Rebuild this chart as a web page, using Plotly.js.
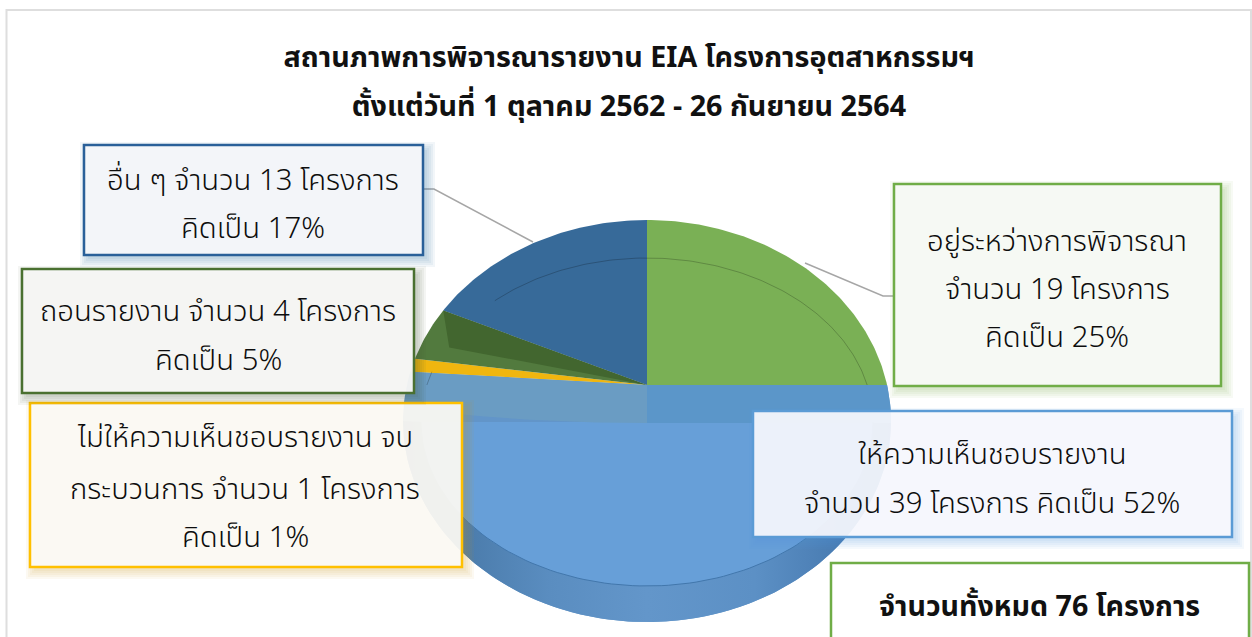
<!DOCTYPE html>
<html><head><meta charset="utf-8">
<script src="https://cdn.plot.ly/plotly-3.0.1.min.js"></script>
<style>html,body{margin:0;padding:0;background:#fff;overflow:hidden}#chart{width:1252px;height:637px}</style>
</head><body><div id="chart"></div>
<script>
const categories = ["อยู่ระหว่างการพิจารณา","ให้ความเห็นชอบรายงาน","ไม่ให้ความเห็นชอบรายงาน จบกระบวนการ","ถอนรายงาน","อื่น ๆ"];
const projects = [19,39,1,4,13];
const sliceColors = ["#7AB055","#6295C9","#F0B60F","#527A3E","#376A99"];
const titleLines = ["สถานภาพการพิจารณารายงาน EIA โครงการอุตสาหกรรมฯ","ตั้งแต่วันที่ 1 ตุลาคม 2562 - 26 กันยายน 2564"];
const labelLines = [
  ["อยู่ระหว่างการพิจารณา","จำนวน 19 โครงการ","คิดเป็น 25%"],
  ["ให้ความเห็นชอบรายงาน","จำนวน 39 โครงการ คิดเป็น 52%"],
  ["ไม่ให้ความเห็นชอบรายงาน จบ","กระบวนการ จำนวน 1 โครงการ","คิดเป็น 1%"],
  ["ถอนรายงาน จำนวน 4 โครงการ","คิดเป็น 5%"],
  ["อื่น ๆ จำนวน 13 โครงการ","คิดเป็น 17%"]
];
const totalLabel = "จำนวนทั้งหมด 76 โครงการ";

// geometry of the tilted pie, in page pixels (axes are mapped 1:1)
const FONT = '"Noto Sans Thai","Noto Sans","DejaVu Sans",sans-serif';
const ax=647, ay=385, cx=647, cy=421, rx=244, ry=201;
const irx=226, iry=164, icy=422;
function rim(th){
  const c=Math.cos(th), s=Math.sin(th);
  const dx=s*rx, dy=-c*(c>0?165:237), py=ay-cy;
  const A=dx*dx/(rx*rx)+dy*dy/(ry*ry), B=2*py*dy/(ry*ry), C=py*py/(ry*ry)-1;
  const t=(-B+Math.sqrt(B*B-4*A*C))/(2*A);
  return [ax+dx*t, ay+dy*t];
}
const total=projects.reduce((a,b)=>a+b,0);
let acc=0; const edges=[0];
projects.forEach(v=>{acc+=v;edges.push(acc/total*2*Math.PI);});
function wedge(a,b){
  const xs=[ax],ys=[ay],n=Math.max(2,Math.ceil((b-a)*60));
  for(let i=0;i<=n;i++){const p=rim(a+(b-a)*i/n);xs.push(p[0]);ys.push(p[1]);}
  xs.push(ax);ys.push(ay);return [xs,ys];
}
function fillTrace(xs,ys,color,name,extra){
  return Object.assign({type:'scatter',mode:'lines',x:xs,y:ys,fill:'toself',fillcolor:color,
    line:{width:0,color:color},name:name||'',hoverinfo:name?'name':'skip',showlegend:false},extra||{});
}
const traces=[];
categories.forEach((c,i)=>{
  const w=wedge(edges[i],edges[i+1]);
  traces.push(fillTrace(w[0],w[1],sliceColors[i],c+': '+projects[i]));
});
// side rim of the pie
(function(){
  const xs=[],ys=[];
  for(let i=0;i<=80;i++){const t=Math.PI*i/80;xs.push(cx+rx*Math.cos(t));ys.push(cy+ry*Math.sin(t));}
  for(let i=80;i>=0;i--){const t=Math.PI*i/80;xs.push(cx+irx*Math.cos(t));ys.push(icy+iry*Math.sin(t));}
  traces.push({type:'scatter',mode:'lines',x:xs,y:ys,fill:'toself',line:{width:0},hoverinfo:'skip',showlegend:false,
    fillgradient:{type:'horizontal',colorscale:[[0,'#3E6E9E'],[0.14,'#4C7DAD'],[0.3,'#5A8DC0'],[0.5,'#6396CA'],[0.72,'#5C90C5'],[0.88,'#4A7DB3'],[1,'#3E70A6']]}});
})();
// upper surface of the blue slice
(function(){
  const xs=[],ys=[];
  for(let i=0;i<=80;i++){const t=Math.PI*i/80;xs.push(cx+irx*Math.cos(t));ys.push(icy+iry*Math.sin(t));}
  traces.push(fillTrace(xs,ys,'#679FD8'));
})();
// light band below the centre
(function(){
  const curve=x=>ay+38*Math.sqrt(1-Math.pow((x-ax)/290,2));
  const end=rim(edges[2]);
  const xs=[ax,end[0]],ys=[ay,end[1]];
  for(let x=404;x<=ax;x+=6){xs.push(x);ys.push(curve(x));}
  xs.push(ax,ax);ys.push(ay+38,ay);
  traces.push(fillTrace(xs,ys,'#6A9CC3'));
  const xr=[ax],yr=[ay];
  for(let i=0;i<=12;i++){const p=ay+38*i/12;xr.push(cx+rx*Math.sqrt(1-Math.pow((p-cy)/ry,2)));yr.push(p);}
  xr.push(ax);yr.push(ay+38);
  traces.push(fillTrace(xr,yr,'#5B96C9'));
})();
// darker facet of the withdrawn slice
const facet=(function(){
  const p=rim(edges[4]);
  traces.push(fillTrace([ax,p[0],p[0]+6,ax],[ay,p[1],p[1]+37,ay],'#42662F'));
  return [p[0],p[1]];
})();
// inner bevel lines
(function(){
  const xu=[],yu=[],xl=[],yl=[];
  const yEdge=Math.asin((icy-ay)/iry);
  const ang=(x,y)=>{const t=Math.atan2(x-ax,-(y-ay));return (t+2*Math.PI)%(2*Math.PI);};
  const fa=ang(facet[0]+6,facet[1]+37);
  for(let i=0;i<=160;i++){const t=yEdge+(Math.PI-2*yEdge)*i/160;
    const x=cx+irx*Math.cos(t),y=icy-iry*Math.sin(t);
    const a=ang(x,y);
    if((a>fa && a<edges[4]) || (a>edges[2]-0.01 && a<edges[3]+0.01)){xu.push(null);yu.push(null);} else {xu.push(x);yu.push(y);}
  }
  for(let i=0;i<=100;i++){const t=Math.PI*i/100;xl.push(cx+irx*Math.cos(t));yl.push(icy+iry*Math.sin(t));}
  traces.push({type:'scatter',mode:'lines',x:xu,y:yu,line:{width:1,color:'rgba(0,0,0,0.22)'},hoverinfo:'skip',showlegend:false});
  traces.push({type:'scatter',mode:'lines',x:xl,y:yl,line:{width:1,color:'#4277AC'},hoverinfo:'skip',showlegend:false});
})();

const boxes=[
 {x0:894,y0:184,x1:1221,y1:386,b:'#70AD47',f:'rgba(248,250,246,0.93)',s:'112,173,71'},
 {x0:753,y0:411,x1:1232,y1:537,b:'#5B9BD5',f:'rgba(248,249,253,0.92)',s:'91,155,213'},
 {x0:30,y0:403,x1:462,y1:567,b:'#FFC000',f:'rgba(252,251,247,0.92)',s:'200,160,40'},
 {x0:22,y0:269,x1:414,y1:393,b:'#4A7030',f:'rgba(247,247,245,0.95)',s:'70,90,50'},
 {x0:84,y0:145,x1:423,y1:255,b:'#2A6099',f:'rgba(245,247,250,0.95)',s:'42,96,153'}
];
const shapes=[
 {type:'rect',xref:'x',yref:'y',x0:6.5,y0:10,x1:1251,y1:640,line:{color:'#DEDEDE',width:2},fillcolor:'rgba(0,0,0,0)',layer:'below'},
 {type:'path',xref:'x',yref:'y',path:'M423,189 L434,189 L533,242',line:{color:'#A6A6A6',width:1.5},layer:'below'},
 {type:'path',xref:'x',yref:'y',path:'M894,296 L883,296 L805,263',line:{color:'#A6A6A6',width:1.5},layer:'below'}
];
boxes.forEach(b=>{
  [9,7,5,3,1].forEach(g=>{
    shapes.push({type:'rect',xref:'x',yref:'y',x0:b.x0-g+5,y0:b.y0-g+6,x1:b.x1+g+3,y1:b.y1+g+3,
      line:{width:0},fillcolor:'rgba('+b.s+',0.06)',layer:'above'});
  });
  shapes.push({type:'rect',xref:'x',yref:'y',x0:b.x0,y0:b.y0,x1:b.x1,y1:b.y1,line:{color:b.b,width:2.5},fillcolor:b.f,layer:'above'});
});
shapes.push({type:'rect',xref:'x',yref:'y',x0:831,y0:563,x1:1249,y1:645,line:{color:'#70AD47',width:2.5},fillcolor:'#FFFFFF',layer:'above'});

const labelPos=[
 {x:1057,y:[242,290,338]},
 {x:992,y:[455,504]},
 {x:245,y:[438,490,538]},
 {x:218,y:[312,361]},
 {x:253,y:[181,229]}
];
const annotations=[];
labelLines.forEach((ls,i)=>ls.forEach((t,j)=>{
  annotations.push({text:t,xref:'x',yref:'y',x:labelPos[i].x,y:labelPos[i].y[j],showarrow:false,xanchor:'center',yanchor:'middle',
    font:{family:FONT,size:29.3,weight:300,color:'#0d0d0d'}});
}));
annotations.push({text:'<b>'+totalLabel+'</b>',xref:'x',yref:'y',x:1039,y:607,showarrow:false,xanchor:'center',yanchor:'middle',font:{family:FONT,size:28.6,color:'#111'}});

const layout={
  width:1252,height:637,margin:{l:0,r:0,t:0,b:0},paper_bgcolor:'#fff',plot_bgcolor:'rgba(0,0,0,0)',showlegend:false,
  title:{text:'<b>'+titleLines[0]+'</b><br><b>'+titleLines[1]+'</b>',x:629/1252,xanchor:'center',y:1-57/637,yanchor:'middle',font:{family:FONT,size:28.7,color:'#111'}},
  xaxis:{range:[0,1252],visible:false,fixedrange:true},
  yaxis:{range:[637,0],visible:false,fixedrange:true},
  shapes:shapes,annotations:annotations
};
Plotly.newPlot('chart',traces,layout,{displayModeBar:false,responsive:false}).then(()=>{
  const ls=document.querySelectorAll('.gtitle tspan.line');
  if(ls.length==2){ls.forEach(l=>l.removeAttribute('dy'));ls[0].setAttribute('y',57);ls[1].setAttribute('y',116);}
});
</script></body></html>
